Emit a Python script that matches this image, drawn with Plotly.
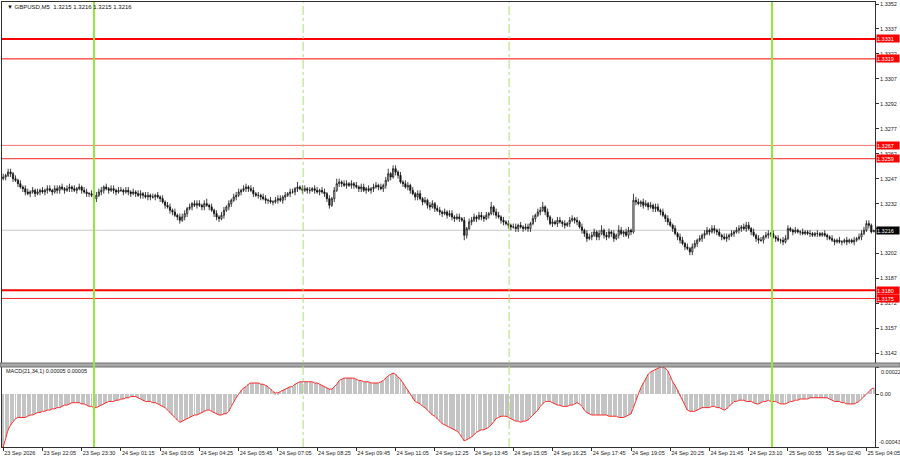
import plotly.graph_objects as go

# ---------------- data (prices in pips above base_price) ----------------
base_price = 1.3200
symbol = "GBPUSD,M5"
first_open_pips = 47

close_pips = [
    48, 49, 51, 50, 47, 46, 44, 42, 41, 39, 38, 39, 40, 38, 39, 40,
    39, 40, 41, 40, 39, 41, 40, 42, 41, 40, 41, 42, 41, 40, 41, 42,
    40, 39, 38, 38, 37, 35, 37, 39, 40, 42, 41, 40, 41, 40, 39, 40,
    40, 39, 40, 39, 38, 39, 38, 37, 38, 37, 36, 37, 36, 36, 37, 36,
    35, 33, 31, 30, 28, 27, 25, 24, 22, 24, 26, 29, 30, 32, 31, 32,
    31, 30, 32, 31, 30, 28, 26, 24, 23, 25, 28, 30, 32, 34, 36, 37,
    39, 40, 41, 42, 41, 40, 38, 37, 37, 36, 35, 34, 34, 33, 33, 34,
    35, 34, 36, 37, 38, 39, 39, 41, 42, 41, 40, 41, 40, 40, 41, 40,
    39, 40, 39, 38, 35, 31, 35, 40, 44, 45, 44, 43, 44, 43, 44, 43,
    42, 41, 42, 40, 41, 40, 41, 42, 43, 42, 41, 43, 46, 50, 48, 53,
    51, 49, 45, 44, 42, 43, 40, 38, 36, 38, 35, 33, 34, 31, 30, 32,
    29, 28, 27, 26, 27, 25, 26, 24, 23, 24, 23, 22, 13, 17, 21, 22,
    24, 23, 25, 24, 23, 25, 26, 30, 27, 25, 24, 22, 21, 20, 19, 18,
    18, 17, 19, 18, 17, 18, 17, 20, 23, 25, 27, 28, 30, 27, 24, 20,
    21, 20, 22, 21, 20, 19, 20, 22, 23, 22, 21, 18, 16, 14, 11, 12,
    13, 15, 12, 14, 16, 13, 12, 15, 14, 11, 13, 16, 14, 15, 13, 16,
    15, 34, 33, 32, 33, 31, 32, 30, 31, 29, 30, 28, 27, 25, 23, 21,
    19, 17, 14, 12, 10, 8, 6, 5, 3, 6, 8, 10, 11, 13, 14, 16,
    15, 17, 16, 15, 13, 12, 11, 12, 13, 14, 15, 16, 17, 18, 17, 19,
    17, 15, 13, 11, 10, 10, 12, 13, 14, 14, 12, 11, 10, 10, 9, 11,
    17, 16, 15, 16, 15, 15, 14, 15, 14, 14, 13, 14, 14, 13, 14, 13,
    12, 11, 10, 9, 10, 9, 9, 10, 9, 10, 9, 10, 11, 12, 14, 16,
    20, 19, 15, 16,
]

wick_up_pips = [
    2, 1, 2, 2, 1, 2, 1, 2, 1, 2, 2, 1, 2, 1, 2, 1,
    2, 1, 2, 2, 1, 2, 2, 1, 2, 1, 2, 2, 1, 2, 1, 2,
    1, 2, 2, 1, 2, 1, 2, 2, 2, 1, 2, 1, 2, 2, 1, 2,
    2, 1, 2, 2, 1, 2, 1, 2, 2, 1, 2, 2, 1, 2, 1, 2,
    1, 2, 1, 2, 2, 1, 2, 1, 2, 2, 2, 1, 2, 1, 2, 2,
    2, 1, 2, 3, 1, 2, 1, 2, 1, 2, 2, 1, 2, 1, 2, 2,
    2, 1, 2, 2, 1, 2, 2, 1, 2, 1, 2, 2, 1, 2, 1, 2,
    2, 2, 1, 2, 1, 2, 2, 1, 3, 1, 2, 2, 1, 2, 1, 2,
    2, 1, 2, 2, 1, 2, 1, 2, 3, 2, 1, 2, 2, 1, 2, 1,
    2, 1, 2, 2, 1, 2, 1, 2, 2, 1, 2, 1, 2, 3, 1, 2,
    2, 1, 2, 1, 2, 2, 1, 2, 1, 2, 2, 1, 2, 1, 2, 2,
    1, 2, 2, 1, 2, 1, 2, 2, 1, 2, 2, 1, 2, 1, 2, 2,
    2, 1, 2, 2, 1, 2, 1, 3, 1, 2, 2, 1, 2, 1, 2, 1,
    2, 2, 1, 2, 1, 2, 2, 1, 2, 1, 2, 2, 3, 1, 2, 1,
    2, 1, 2, 2, 1, 2, 1, 2, 2, 1, 2, 1, 2, 1, 2, 2,
    2, 2, 1, 2, 3, 1, 2, 2, 1, 2, 1, 3, 2, 1, 2, 2,
    1, 4, 2, 2, 1, 2, 2, 1, 2, 1, 2, 2, 1, 2, 1, 2,
    2, 1, 2, 1, 2, 2, 1, 2, 1, 2, 2, 1, 2, 1, 2, 2,
    1, 2, 2, 1, 2, 1, 2, 2, 1, 2, 1, 2, 2, 1, 2, 2,
    2, 1, 2, 1, 2, 2, 1, 2, 2, 1, 2, 1, 2, 1, 2, 2,
    2, 1, 1, 2, 1, 1, 2, 1, 1, 2, 1, 1, 2, 1, 1, 2,
    1, 1, 2, 1, 1, 2, 1, 1, 2, 1, 1, 2, 1, 2, 2, 2,
    2, 2, 1, 0,
]

wick_dn_pips = [
    1, 2, 1, 2, 2, 1, 2, 1, 2, 2, 1, 2, 1, 2, 1, 2,
    1, 2, 2, 1, 2, 1, 2, 2, 1, 2, 1, 2, 2, 1, 2, 1,
    2, 1, 2, 2, 1, 3, 2, 1, 2, 2, 1, 2, 1, 2, 2, 1,
    1, 2, 1, 2, 2, 1, 2, 1, 2, 2, 1, 2, 2, 1, 2, 1,
    2, 1, 2, 1, 2, 2, 1, 2, 2, 1, 2, 2, 1, 2, 1, 2,
    1, 2, 2, 1, 2, 1, 2, 2, 2, 1, 2, 1, 2, 2, 1, 2,
    1, 2, 1, 2, 2, 1, 2, 1, 2, 2, 1, 2, 2, 1, 2, 1,
    2, 1, 2, 2, 1, 2, 1, 2, 2, 1, 2, 1, 2, 2, 1, 2,
    1, 2, 1, 2, 2, 2, 1, 2, 1, 2, 2, 1, 2, 1, 2, 2,
    1, 2, 2, 1, 2, 1, 2, 2, 1, 2, 1, 2, 2, 1, 2, 1,
    2, 2, 1, 2, 1, 2, 2, 1, 2, 2, 1, 2, 1, 2, 2, 1,
    2, 1, 2, 2, 1, 2, 1, 2, 2, 1, 2, 1, 3, 2, 1, 2,
    1, 2, 1, 2, 2, 1, 2, 1, 2, 2, 1, 2, 2, 1, 2, 2,
    1, 2, 2, 1, 2, 1, 2, 2, 1, 2, 1, 2, 1, 2, 2, 1,
    2, 1, 2, 1, 2, 2, 1, 2, 1, 2, 2, 1, 2, 2, 2, 1,
    2, 1, 2, 2, 1, 2, 2, 1, 2, 2, 1, 2, 1, 2, 1, 2,
    2, 1, 2, 1, 2, 2, 1, 2, 1, 2, 2, 1, 2, 1, 2, 2,
    1, 2, 1, 2, 2, 1, 2, 1, 2, 2, 1, 2, 1, 2, 2, 1,
    2, 1, 2, 2, 1, 2, 1, 2, 2, 1, 2, 1, 2, 2, 1, 2,
    1, 2, 1, 2, 2, 1, 2, 1, 2, 2, 1, 2, 1, 2, 2, 1,
    1, 1, 2, 1, 1, 2, 1, 1, 1, 2, 1, 1, 2, 1, 1, 1,
    2, 1, 1, 2, 1, 1, 2, 1, 2, 1, 1, 2, 1, 1, 2, 1,
    1, 2, 1, 0,
]

# MACD(21,34,1) main value, in units of 0.00001
macd_e5 = [
    -43, -35, -29, -25, -22, -20, -19, -19, -19, -19, -18, -17, -17, -16, -15, -15,
    -14, -14, -13, -13, -12, -12, -11, -11, -10, -9, -9, -8, -7, -7, -7, -7,
    -8, -8, -9, -10, -10, -11, -11, -10, -9, -8, -7, -6, -6, -6, -5, -5,
    -4, -4, -3, -3, -2, -2, -2, -3, -4, -5, -6, -6, -6, -7, -7, -8,
    -9, -10, -11, -13, -15, -17, -19, -21, -23, -22, -21, -20, -19, -18, -17, -17,
    -16, -15, -14, -13, -13, -14, -15, -16, -17, -17, -16, -16, -14, -10, -6, -3,
    0, 3, 5, 6, 8, 9, 9, 9, 9, 8, 8, 7, 6, 4, 2, 1,
    1, 2, 3, 4, 5, 6, 6, 8, 9, 10, 10, 10, 10, 10, 10, 9,
    9, 8, 7, 6, 5, 4, 4, 6, 8, 11, 12, 13, 13, 13, 13, 13,
    12, 11, 11, 10, 10, 10, 9, 9, 9, 9, 10, 11, 13, 15, 16, 17,
    16, 14, 12, 9, 6, 3, 0, -4, -6, -7, -8, -10, -11, -13, -15, -17,
    -18, -20, -22, -24, -25, -26, -27, -28, -29, -30, -32, -35, -38, -37, -36, -35,
    -33, -31, -30, -29, -29, -28, -27, -25, -22, -20, -19, -18, -18, -18, -19, -20,
    -21, -22, -22, -23, -22, -22, -21, -19, -17, -15, -13, -10, -8, -6, -6, -6,
    -7, -8, -9, -9, -10, -10, -10, -9, -9, -8, -7, -8, -10, -13, -15, -16,
    -17, -17, -17, -17, -17, -17, -17, -18, -18, -18, -18, -19, -19, -19, -18, -17,
    -16, -11, -5, 0, 5, 9, 13, 16, 18, 19, 20, 21, 22, 22, 21, 19,
    14, 10, 7, 3, -1, -5, -9, -13, -14, -14, -14, -13, -12, -11, -11, -11,
    -11, -10, -10, -11, -11, -12, -13, -12, -10, -8, -6, -6, -5, -5, -5, -6,
    -6, -6, -7, -8, -8, -7, -6, -6, -5, -6, -6, -6, -7, -8, -8, -8,
    -7, -6, -6, -5, -5, -4, -4, -4, -4, -3, -3, -3, -3, -3, -3, -3,
    -3, -4, -5, -6, -6, -6, -7, -7, -8, -8, -8, -8, -7, -6, -4, -2,
    0, 2, 4, 5,
]

tick_labels = [
    "23 Sep 2026", "23 Sep 22:05", "23 Sep 23:30", "24 Sep 01:15", "24 Sep 03:05",
    "24 Sep 04:25", "24 Sep 05:45", "24 Sep 07:05", "24 Sep 08:25", "24 Sep 09:45",
    "24 Sep 11:05", "24 Sep 12:25", "24 Sep 13:45", "24 Sep 15:05", "24 Sep 16:25",
    "24 Sep 17:45", "24 Sep 19:05", "24 Sep 20:25", "24 Sep 21:45", "24 Sep 23:10",
    "25 Sep 00:55", "25 Sep 02:40", "25 Sep 04:05",
]
bars_per_label = 16

price_ticks = [1.3352, 1.3337, 1.3322, 1.3307, 1.3292, 1.3277, 1.3262, 1.3247,
               1.3232, 1.3217, 1.3202, 1.3187, 1.3172, 1.3157, 1.3142]
price_range = [1.31362, 1.33532]

levels = [1.3331, 1.3319, 1.3267, 1.3259, 1.3180, 1.3175]
level_styles = [(2, "#FF0000"), (1, "#FF0000"), (1, "#FF7070"),
                (1, "#FF2020"), (2, "#FF0000"), (1, "#FF2020")]
current_price = 1.3216

green_lines = [37.0, 313.5]      # bar positions of solid green verticals
dash_lines = [122.3, 206.3]      # bar positions of dashed verticals

# ---------------- build ----------------
n = len(close_pips)
assert len(wick_up_pips) == n and len(wick_dn_pips) == n and len(macd_e5) == n
idx = list(range(n))
opens_p = [first_open_pips] + close_pips[:-1]
o = [base_price + v / 10000 for v in opens_p]
c = [base_price + v / 10000 for v in close_pips]
h = [base_price + (max(a, b) + w) / 10000 for a, b, w in zip(opens_p, close_pips, wick_up_pips)]
l = [base_price + (min(a, b) - w) / 10000 for a, b, w in zip(opens_p, close_pips, wick_dn_pips)]
macd = [v * 1e-5 for v in macd_e5]

W, H = 900, 460
def px_x(x):
    return x / W
def px_y(y):
    return 1 - y / H

x_dom = [px_x(2), px_x(875)]
main_dom = [px_y(363), px_y(2)]
macd_dom = [px_y(447), px_y(367)]
FONT = "Liberation Sans, Arial, sans-serif"

fig = go.Figure()
fig.add_trace(go.Candlestick(
    x=idx, open=o, high=h, low=l, close=c,
    increasing=dict(line=dict(color="#111111", width=0.8), fillcolor="white"),
    decreasing=dict(line=dict(color="#111111", width=0.8), fillcolor="#111111"),
    whiskerwidth=0, xaxis="x", yaxis="y", showlegend=False, hoverinfo="skip",
))
fig.add_trace(go.Bar(
    x=idx, y=macd, width=0.4, marker=dict(color="#C4C4C4", line=dict(width=0)),
    xaxis="x2", yaxis="y2", showlegend=False, hoverinfo="skip",
))
fig.add_trace(go.Scatter(
    x=idx, y=macd, mode="lines", line=dict(color="#FF2A2A", width=1),
    xaxis="x2", yaxis="y2", showlegend=False, hoverinfo="skip",
))

tickvals = [i * bars_per_label for i in range(len(tick_labels))]
xr = [-0.5, n - 0.5]
axis_common = dict(showgrid=False, zeroline=False, linecolor="#303030", linewidth=1)

fig.update_layout(
    width=W, height=H, margin=dict(l=0, r=0, t=0, b=0, autoexpand=False),
    paper_bgcolor="white", plot_bgcolor="white", bargap=0,
    xaxis=dict(domain=x_dom, range=xr, anchor="y", showticklabels=False,
               ticks="", showline=True, mirror=True, rangeslider=dict(visible=False),
               **axis_common),
    yaxis=dict(domain=main_dom, range=price_range, anchor="x", side="right",
               tickvals=price_ticks, ticktext=[f"{v:.4f}" for v in price_ticks],
               ticks="outside", ticklen=3, tickcolor="#303030", showline=True, mirror=True,
               tickfont=dict(family=FONT, size=5.5, color="#202020"), **axis_common),
    xaxis2=dict(domain=x_dom, range=xr, anchor="y2", tickvals=tickvals, ticktext=tick_labels,
                ticks="outside", ticklen=3, tickcolor="#303030", ticklabelposition="outside right",
                ticklabeloverflow="allow", tickangle=0, automargin=False,
                tickfont=dict(family=FONT, size=5.5, color="#202020"),
                showline=True, mirror=True, **axis_common),
    yaxis2=dict(domain=macd_dom, range=[-0.00043, 0.00022], anchor="x2", side="right",
                tickvals=[0.00022, 0.0, -0.00043], ticktext=["", "0.00", ""],
                ticks="outside", ticklen=3, tickcolor="#303030", showline=True, mirror=True,
                tickfont=dict(family=FONT, size=5.5, color="#202020"), **axis_common),
)

shapes = []
shapes.append(dict(type="rect", xref="paper", yref="paper", x0=0, x1=1,
                   y0=px_y(367), y1=px_y(363), fillcolor="#A8A8A8",
                   line=dict(color="#707070", width=1), layer="above"))
shapes.append(dict(type="line", xref="paper", yref="y", x0=x_dom[0], x1=x_dom[1],
                   y0=current_price, y1=current_price, line=dict(color="#C8C8C8", width=1),
                   layer="below"))
for lv, (wdt, col) in zip(levels, level_styles):
    shapes.append(dict(type="line", xref="paper", yref="y", x0=x_dom[0], x1=x_dom[1],
                       y0=lv, y1=lv, line=dict(color=col, width=wdt), layer="above"))
for gx in green_lines:
    shapes.append(dict(type="line", xref="x", yref="paper", x0=gx, x1=gx,
                       y0=macd_dom[0], y1=main_dom[1], line=dict(color="#8FEA3A", width=2),
                       layer="above"))
for dx in dash_lines:
    shapes.append(dict(type="line", xref="x", yref="paper", x0=dx, x1=dx,
                       y0=macd_dom[0], y1=main_dom[1],
                       line=dict(color="#A8E070", width=1, dash="dashdot"), layer="above"))
fig.update_layout(shapes=shapes)

ann = []
lab_x = px_x(876)
for lv in levels:
    ann.append(dict(xref="paper", yref="y", x=lab_x, y=lv, xanchor="left", yanchor="middle",
                    text=f"{lv:.4f}", showarrow=False, bgcolor="#FF0000", width=22, height=7,
                    align="left", borderpad=0,
                    font=dict(family=FONT, size=5.5, color="white")))
ann.append(dict(xref="paper", yref="y", x=lab_x, y=current_price, xanchor="left",
                yanchor="middle", text=f"{current_price:.4f}", showarrow=False,
                bgcolor="#000000", width=22, height=7, align="left", borderpad=0,
                font=dict(family=FONT, size=5.5, color="white")))
ann.append(dict(xref="paper", yref="y2", x=px_x(879), y=0.00022, xanchor="left", yanchor="top",
                text="0.00022", showarrow=False, font=dict(family=FONT, size=5.5, color="#202020")))
ann.append(dict(xref="paper", yref="y2", x=px_x(877), y=-0.00043, xanchor="left", yanchor="bottom",
                text="-0.00043", showarrow=False, font=dict(family=FONT, size=5.5, color="#202020")))
last = n - 1
title = (f"▼ {symbol}  {o[last]:.4f} {h[last]:.4f} {l[last]:.4f} {c[last]:.4f}")
ann.append(dict(xref="paper", yref="paper", x=px_x(5), y=px_y(7), xanchor="left",
                yanchor="middle", text=title, showarrow=False,
                font=dict(family=FONT, size=6, color="#101010")))
ann.append(dict(xref="paper", yref="paper", x=px_x(4), y=px_y(371), xanchor="left",
                yanchor="middle", text=f"MACD(21,34,1) {macd[-1]:.5f} {macd[-1]:.5f}",
                showarrow=False, font=dict(family=FONT, size=5.5, color="#101010")))
fig.update_layout(annotations=ann)

fig.write_html(
    "out.html",
    config={"displayModeBar": False},
    post_script="document.body.style.margin='0';document.body.style.overflow='hidden';",
)
